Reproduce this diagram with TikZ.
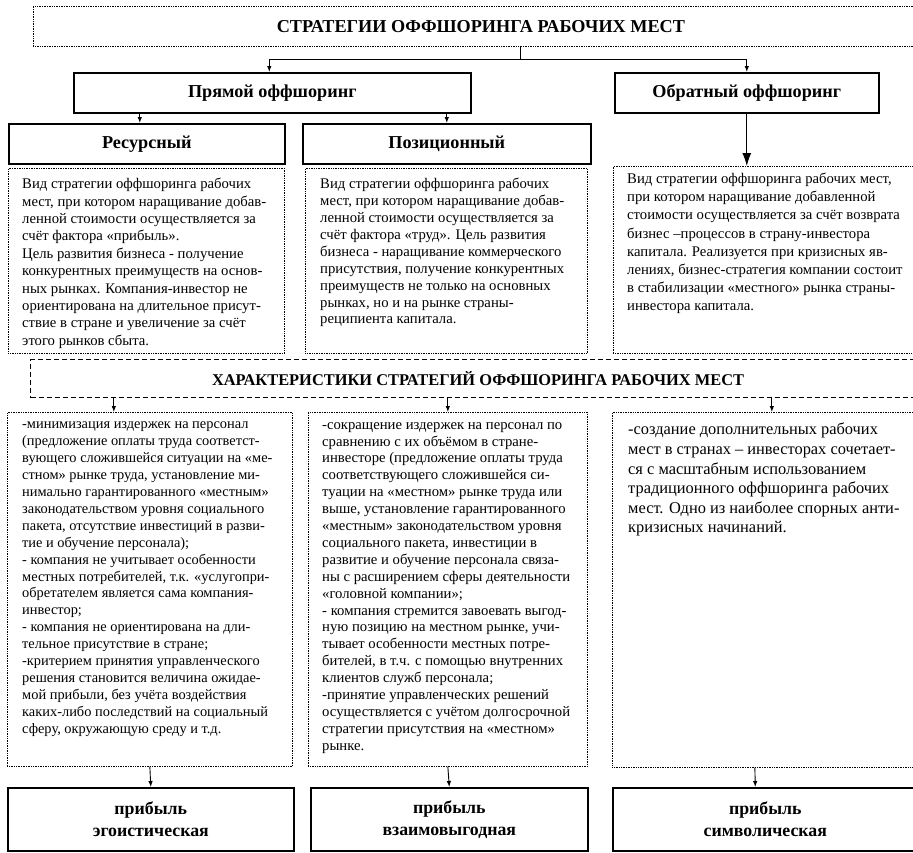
\documentclass[tikz,border=0pt]{standalone}
\usepackage{fontspec}
\setmainfont{Liberation Serif}
\usetikzlibrary{arrows.meta,positioning,calc}

\begin{document}
\begin{tikzpicture}[x=1pt,y=-1pt,
  solidbox/.style={rectangle,draw,line width=1.6pt,anchor=north west,inner sep=0pt},
  dotbox/.style={rectangle,draw,densely dotted,line width=0.7pt,anchor=north west,inner sep=0pt},
  dashbox/.style={rectangle,draw,dash pattern=on 5pt off 3pt,line width=1.1pt,anchor=north west,inner sep=0pt},
  head/.style={font=\fontsize{18.2}{21}\selectfont\bfseries},
  profit/.style={align=center,font=\fontsize{17.8}{22}\selectfont\bfseries},
  body/.style={anchor=north west,inner sep=0pt,align=left,font=\fontsize{14.7}{16.9}\selectfont},
  arr/.style={-{Latex[length=6pt,width=4.5pt]},line width=0.9pt},
  bigarr/.style={-{Latex[length=13pt,width=9pt]},line width=1.1pt}
]
\useasboundingbox (0,0) rectangle (913,852);
\clip (0,0) rectangle (913,852);

% top level
\node[dotbox,minimum width=895pt,minimum height=40pt,head] (title) at (33,6) {СТРАТЕГИИ ОФФШОРИНГА РАБОЧИХ МЕСТ};
\node[solidbox,minimum width=397pt,minimum height=40pt,head] (direct) at (73,72) {Прямой оффшоринг};
\node[solidbox,minimum width=264pt,minimum height=40pt,head] (reverse) at (614,72) {Обратный оффшоринг};
\node[solidbox,minimum width=276pt,minimum height=40pt,head] (resource) at (8,123) {Ресурсный};
\node[solidbox,minimum width=288pt,minimum height=40pt,head] (position) at (302,123) {Позиционный};

\coordinate (split) at (520,59);
\draw[line width=0.9pt] (title.south -| split) -- (split);
\draw[arr] (split) -| ([xshift=-3pt]direct.north);
\draw[arr] (split) -| (reverse.north);
\draw[arr] ([xshift=-7pt]resource.north |- direct.south) -- ([xshift=-7pt]resource.north);
\draw[arr] (position.north |- direct.south) -- (position.north);

% descriptions
\node[dotbox,minimum width=276pt,minimum height=185pt] (resdesc) at (8,168) {};
\node[body,font=\fontsize{14.7}{17.4}\selectfont] (resdesctxt) at (22,178) {Вид стратегии оффшоринга рабочих\\
мест, при котором наращивание добав-\\
ленной стоимости осуществляется за\\
счёт фактора «прибыль».\\
Цель развития бизнеса - получение\\
конкурентных преимуществ на основ-\\
ных рынках. Компания-инвестор  не\\
ориентирована на  длительное присут-\\
ствие в стране и увеличение за счёт\\
этого рынков сбыта.};
\node[dotbox,minimum width=282pt,minimum height=185pt] (posdesc) at (305,168) {};
\node[body] (posdesctxt) at (320,178) {Вид стратегии оффшоринга рабочих\\
мест, при котором наращивание добав-\\
ленной стоимости осуществляется за\\
счёт фактора «труд». Цель развития\\
бизнеса - наращивание коммерческого\\
присутствия, получение конкурентных\\
преимуществ не только на основных\\
рынках, но и на рынке страны-\\
реципиента капитала.};
\node[dotbox,minimum width=305pt,minimum height=187pt] (revdesc) at (613,166) {};
\node[body,font=\fontsize{14.7}{18.1}\selectfont] (revdesctxt) at (627,173) {Вид стратегии оффшоринга рабочих мест,\\
при котором наращивание добавленной\\
стоимости  осуществляется за счёт возврата\\
бизнес –процессов в страну-инвестора\\
капитала. Реализуется при кризисных яв-\\
лениях, бизнес-стратегия компании состоит\\
в  стабилизации «местного» рынка страны-\\
инвестора капитала.};
\draw[bigarr] (reverse.south) -- (reverse.south |- revdesc.north);

% characteristics
\node[dashbox,minimum width=895pt,minimum height=38pt,font=\fontsize{16.4}{20}\selectfont\bfseries] (traits) at (30,359) {ХАРАКТЕРИСТИКИ СТРАТЕГИЙ ОФФШОРИНГА РАБОЧИХ МЕСТ};

\node[dotbox,minimum width=285pt,minimum height=354pt] (egotraits) at (7,412) {};
\node[body,font=\fontsize{14.4}{16.9}\selectfont] (egotraitstxt) at (22,422) {-минимизация издержек на персонал\\
(предложение оплаты труда соответст-\\
вующего сложившейся ситуации на «ме-\\
стном» рынке труда, установление ми-\\
нимально гарантированного «местным»\\
законодательством уровня социального\\
пакета, отсутствие инвестиций в  разви-\\
тие и обучение персонала);\\
- компания не учитывает особенности\\
местных  потребителей, т.к. «услугопри-\\
обретателем является  сама компания-\\
инвестор;\\
- компания не ориентирована на дли-\\
тельное присутствие в стране;\\
-критерием принятия управленческого\\
решения становится  величина ожидае-\\
мой прибыли, без учёта воздействия\\
каких-либо последствий на социальный\\
сферу, окружающую среду и т.д.};
\node[dotbox,minimum width=279pt,minimum height=354pt] (mutualtraits) at (308,412) {};
\node[body] (mutualtraitstxt) at (322,422) {-сокращение издержек на персонал по\\
сравнению с их объёмом в стране-\\
инвесторе (предложение оплаты труда\\
соответствующего сложившейся си-\\
туации на «местном» рынке труда или\\
выше, установление гарантированного\\
«местным» законодательством уровня\\
социального пакета, инвестиции в\\
развитие и обучение персонала связа-\\
ны с расширением сферы деятельности\\
«головной компании»;\\
- компания стремится завоевать выгод-\\
ную позицию на местном рынке, учи-\\
тывает особенности  местных  потре-\\
бителей, в т.ч. с помощью внутренних\\
клиентов служб персонала;\\
-принятие  управленческих  решений\\
осуществляется с учётом долгосрочной\\
стратегии  присутствия  на  «местном»\\
рынке.};
\node[dotbox,minimum width=305pt,minimum height=355pt] (symtraits) at (612,412) {};
\node[body,font=\fontsize{16.4}{19.6}\selectfont] (symtraitstxt) at (628,423) {-создание дополнительных рабочих\\
мест в странах – инвесторах сочетает-\\
ся с  масштабным использованием\\
традиционного оффшоринга рабочих\\
мест. Одно из наиболее спорных анти-\\
кризисных начинаний.};

\draw[arr] ([xshift=-36pt]egotraits.north |- traits.south) -- ([xshift=-36pt]egotraits.north);
\draw[arr] (mutualtraits.north |- traits.south) -- (mutualtraits.north);
\draw[arr] ([xshift=7pt]symtraits.north |- traits.south) -- ([xshift=7pt]symtraits.north);

% profit kinds
\node[solidbox,minimum width=286pt,minimum height=63pt,profit] (egoprofit) at (7,787) {прибыль\\эгоистическая};
\node[solidbox,minimum width=277pt,minimum height=63pt,profit] (mutualprofit) at (310,787) {прибыль\\взаимовыгодная};
\node[solidbox,minimum width=305pt,minimum height=63pt,profit] (symprofit) at (612,787) {прибыль\\символическая};

\draw[arr] (egotraits.south) -- (egoprofit.north);
\draw[arr] (mutualtraits.south) -- (mutualprofit.north);
\draw[arr] ([xshift=-10pt]symtraits.south) -- ([xshift=-10pt]symprofit.north);
\end{tikzpicture}
\end{document}
